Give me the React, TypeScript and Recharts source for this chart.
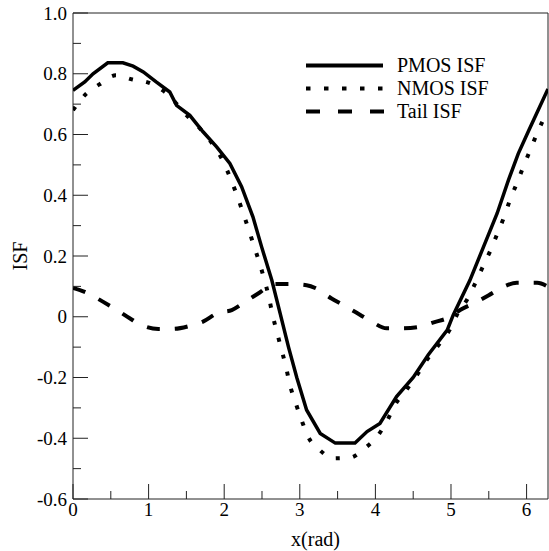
import React from 'react';
import { LineChart, Line, XAxis, YAxis, ReferenceArea, Legend, Label } from 'recharts';

const FONT = "'Liberation Serif', 'Times New Roman', serif";

const PMOS_X = [0, 0.155, 0.265, 0.46, 0.66, 0.795, 0.93, 1.1, 1.28, 1.37, 1.545, 1.72, 1.9, 2.075, 2.23, 2.38, 2.495, 2.63, 2.74, 2.85, 2.96, 3.09, 3.27, 3.47, 3.73, 3.89, 4.06, 4.28, 4.5, 4.7, 4.95, 5.03, 5.25, 5.43, 5.61, 5.76, 5.89, 6.03, 6.283];
const PMOS_Y = [0.745, 0.773, 0.8, 0.836, 0.836, 0.825, 0.806, 0.773, 0.74, 0.696, 0.663, 0.609, 0.559, 0.505, 0.428, 0.329, 0.23, 0.12, 0.011, -0.099, -0.2, -0.307, -0.384, -0.416, -0.416, -0.378, -0.351, -0.263, -0.2, -0.125, -0.044, 0.006, 0.12, 0.23, 0.34, 0.45, 0.537, 0.614, 0.75];

const NMOS_X = [0, 0.17, 0.35, 0.565, 0.787, 1.007, 1.215, 1.523, 1.7, 1.855, 1.98, 2.075, 2.16, 2.24, 2.32, 2.39, 2.465, 2.53, 2.59, 2.64, 2.7, 2.76, 2.82, 2.87, 2.94, 3.02, 3.11, 3.26, 3.44, 3.66, 3.86, 4.03, 4.16, 4.26, 4.41, 4.55, 4.68, 4.83, 4.98, 5.1, 5.21, 5.32, 5.42, 5.52, 5.61, 5.7, 5.78, 5.87, 5.96, 6.05, 6.14, 6.283];
const NMOS_Y = [0.68, 0.733, 0.765, 0.795, 0.781, 0.77, 0.74, 0.658, 0.614, 0.565, 0.515, 0.46, 0.406, 0.349, 0.29, 0.236, 0.179, 0.123, 0.066, 0.006, -0.053, -0.11, -0.168, -0.225, -0.28, -0.338, -0.395, -0.438, -0.466, -0.464, -0.433, -0.392, -0.34, -0.29, -0.241, -0.192, -0.142, -0.095, -0.044, 0.016, 0.055, 0.11, 0.164, 0.217, 0.272, 0.327, 0.384, 0.439, 0.496, 0.55, 0.605, 0.68];

const TAIL_X = [0, 0.155, 0.4, 0.55, 0.75, 0.905, 1.13, 1.32, 1.545, 1.72, 1.92, 2.1, 2.3, 2.47, 2.65, 2.85, 3.09, 3.22, 3.42, 3.58, 3.8, 3.95, 4.15, 4.35, 4.59, 4.75, 4.99, 5.12, 5.34, 5.5, 5.7, 5.87, 6.14, 6.283];
const TAIL_Y = [0.095, 0.082, 0.049, 0.027, -0.005, -0.027, -0.04, -0.04, -0.03, -0.016, 0.013, 0.022, 0.053, 0.08, 0.108, 0.108, 0.104, 0.093, 0.06, 0.038, 0.006, -0.016, -0.038, -0.038, -0.033, -0.02, 0.0, 0.022, 0.049, 0.071, 0.099, 0.112, 0.112, 0.099];

const X_TICKS = [0, 0.5, 1, 1.5, 2, 2.5, 3, 3.5, 4, 4.5, 5, 5.5, 6];
const X_MAJOR = [0, 1, 2, 3, 4, 5, 6];
const X_LABELS = ['0', '1', '2', '3', '4', '5', '6'];
const Y_TICKS = [-0.6, -0.5, -0.4, -0.3, -0.2, -0.1, 0, 0.1, 0.2, 0.3, 0.4, 0.5, 0.6, 0.7, 0.8, 0.9, 1.0];
const Y_MAJOR = [-0.6, -0.4, -0.2, 0, 0.2, 0.4, 0.6, 0.8, 1.0];
const Y_LABELS = ['-0.6', '-0.4', '-0.2', '0', '0.2', '0.4', '0.6', '0.8', '1.0'];

const SERIES_NAMES = ['PMOS ISF', 'NMOS ISF', 'Tail ISF'];

const toPoints = (xs: number[], ys: number[]) => xs.map((x, i) => ({ x, y: ys[i] }));
const pmos = toPoints(PMOS_X, PMOS_Y);
const nmos = toPoints(NMOS_X, NMOS_Y);
const tail = toPoints(TAIL_X, TAIL_Y);

const findIdx = (arr: number[], v: number) => arr.findIndex((a) => Math.abs(a - v) < 1e-6);

const YTick = (props: any) => {
  const { x, y, payload } = props;
  const idx = findIdx(Y_MAJOR, payload.value);
  const major = idx >= 0;
  return (
    <g>
      <line x1={x} x2={x + (major ? 15 : 8)} y1={y} y2={y} stroke="#222" strokeWidth={1} />
      {major && (
        <text x={x - 6} y={y + 6.5} textAnchor="end" fontFamily={FONT} fontSize={19} fill="#000">
          {Y_LABELS[idx]}
        </text>
      )}
    </g>
  );
};

const XTick = (props: any) => {
  const { x, y, payload } = props;
  const idx = findIdx(X_MAJOR, payload.value);
  const major = idx >= 0;
  return (
    <g>
      <line x1={x} x2={x} y1={y} y2={y - (major ? 15 : 8)} stroke="#222" strokeWidth={1} />
      {major && (
        <text x={x} y={y + 17} textAnchor="middle" fontFamily={FONT} fontSize={19} fill="#000">
          {X_LABELS[idx]}
        </text>
      )}
    </g>
  );
};

const LEGEND_DASH = [undefined, '4.5 13.5', '14 18'];

const LegendContent = () => (
  <div style={{ fontFamily: FONT, fontSize: 20, color: '#000' }}>
    {SERIES_NAMES.map((name, i) => (
      <div key={name} style={{ display: 'flex', alignItems: 'center', height: 23 }}>
        <svg width={93} height={23} style={{ display: 'block' }}>
          <line x1={2} x2={i === 2 ? 83 : 79} y1={11.5} y2={11.5} stroke="#000" strokeWidth={4} strokeDasharray={LEGEND_DASH[i]} />
        </svg>
        <span style={{ lineHeight: '23px', whiteSpace: 'nowrap' }}>{name}</span>
      </div>
    ))}
  </div>
);

export default function App() {
  return (
    <div style={{ position: 'absolute', left: 0, top: 0, background: '#fff' }}>
      <LineChart width={549} height={551} margin={{ top: 13, right: 1, bottom: 0, left: 0 }}>
        <XAxis
          dataKey="x"
          type="number"
          domain={[0, 2 * Math.PI]}
          allowDataOverflow
          ticks={X_TICKS}
          interval={0}
          tick={<XTick />}
          tickLine={false}
          axisLine={false}
          tickSize={0}
          tickMargin={0}
          height={52}
        >
          <Label
            content={(p: any) => {
              const vb = p.viewBox || {};
              return (
                <text x={vb.x + vb.width / 2 + 5} y={546} textAnchor="middle" fontFamily={FONT} fontSize={20} fill="#000">
                  x(rad)
                </text>
              );
            }}
          />
        </XAxis>
        <YAxis
          type="number"
          domain={[-0.6, 1.0]}
          allowDataOverflow
          ticks={Y_TICKS}
          interval={0}
          tick={<YTick />}
          tickLine={false}
          axisLine={false}
          tickSize={0}
          tickMargin={0}
          width={73}
        >
          <Label
            content={(p: any) => {
              const vb = p.viewBox || {};
              const cy = vb.y + vb.height / 2;
              return (
                <text x={20} y={cy} transform={`rotate(-90, 20, ${cy})`} textAnchor="middle" dominantBaseline="central" fontFamily={FONT} fontSize={20} fill="#000">
                  ISF
                </text>
              );
            }}
          />
        </YAxis>
        <ReferenceArea x1={0} x2={2 * Math.PI} y1={-0.6} y2={1.0} fill="none" stroke="#222" strokeWidth={1} />
        <Line data={pmos} dataKey="y" type="linear" stroke="#000" strokeWidth={3.5} dot={false} isAnimationActive={false} />
        <Line data={nmos} dataKey="y" type="monotone" stroke="#000" strokeWidth={4} strokeDasharray="4 13.5" dot={false} isAnimationActive={false} />
        <Line data={tail} dataKey="y" type="monotone" stroke="#000" strokeWidth={4} strokeDasharray="13 15" dot={false} isAnimationActive={false} />
        <Legend
          layout="horizontal"
          verticalAlign="middle"
          align="center"
          content={<LegendContent />}
          wrapperStyle={{ position: 'absolute', left: 304, top: 53.5, width: 220, height: 69 }}
        />
      </LineChart>
    </div>
  );
}
